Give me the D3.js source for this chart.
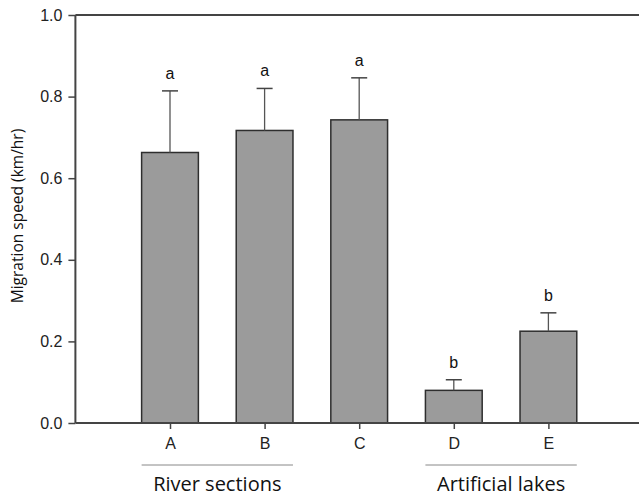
<!DOCTYPE html>
<html><head><meta charset="utf-8">
<script src="https://cdn.jsdelivr.net/npm/d3@7"></script>
<style>body{margin:0;background:#fff}svg{display:block}</style>
</head><body>
<script>
const categories = ["A","B","C","D","E"];
const means = [0.663, 0.717, 0.743, 0.080, 0.225];
const errors = [0.151, 0.103, 0.103, 0.026, 0.045];
const letters = ["a","a","a","b","b"];
const yTicks = [0.0, 0.2, 0.4, 0.6, 0.8, 1.0];
const groups = [{label:"River sections", from:"A", to:"B"},{label:"Artificial lakes", from:"D", to:"E"}];

const W = 639, H = 498;
const svg = d3.select("body").append("svg").attr("width", W).attr("height", H);
const axisColor = "#444";

const x = d3.scalePoint().domain(["", ...categories, " "]).range([75.4, 643]);
const step = x.step();
const bw = step * 0.6;
const y = d3.scaleLinear().domain([0, 1]).range([423, 15]);

svg.selectAll("rect.bar").data(categories).enter().append("rect")
  .attr("x", (d) => x(d) - bw/2)
  .attr("y", (d,i) => y(means[i]))
  .attr("width", bw)
  .attr("height", (d,i) => y(0) - y(means[i]))
  .attr("fill", "#9b9b9b").attr("stroke", "#2e2e2e").attr("stroke-width", 1.5);

categories.forEach((c,i) => {
  const top = y(means[i] + errors[i]);
  svg.append("line").attr("x1", x(c)).attr("x2", x(c)).attr("y1", y(means[i])).attr("y2", top)
    .attr("stroke", "#555").attr("stroke-width", 1.3);
  svg.append("line").attr("x1", x(c)-8).attr("x2", x(c)+8).attr("y1", top).attr("y2", top)
    .attr("stroke", "#444").attr("stroke-width", 1.5);
  svg.append("text").attr("x", x(c)).attr("y", top - 12).attr("text-anchor", "middle")
    .attr("font-family", "Liberation Sans, Arial, sans-serif").attr("font-size", 16).attr("fill", "#111")
    .text(letters[i]);
});

const yAxis = svg.append("g").attr("transform", "translate(75.4,0)")
  .call(d3.axisLeft(y).tickValues(yTicks).tickFormat(d3.format(".1f")).tickSize(7).tickPadding(6));
yAxis.select(".domain").attr("stroke", axisColor).attr("stroke-width", 2).attr("d", `M0,${y(1)}V${y(0)}`);
yAxis.selectAll(".tick line").attr("stroke", axisColor).attr("stroke-width", 1.5);
yAxis.selectAll("text").attr("font-family", "Liberation Sans, Arial, sans-serif").attr("font-size", 16).attr("fill", "#222");

const xAxis = svg.append("g").attr("transform", `translate(0,${y(0)})`)
  .call(d3.axisBottom(x).tickValues(categories).tickSize(6).tickPadding(9));
xAxis.select(".domain").attr("stroke", axisColor).attr("stroke-width", 2).attr("d", `M75.4,0H${W}`);
xAxis.selectAll(".tick line").attr("stroke", axisColor).attr("stroke-width", 1.5);
xAxis.selectAll("text").attr("font-family", "Liberation Sans, Arial, sans-serif").attr("font-size", 16).attr("fill", "#222");

svg.append("line").attr("x1", 75.4).attr("x2", W).attr("y1", y(1)).attr("y2", y(1))
  .attr("stroke", axisColor).attr("stroke-width", 2);

groups.forEach(g => {
  const x1 = x(g.from) - bw/2, x2 = x(g.to) + bw/2;
  svg.append("line").attr("x1", x1).attr("x2", x2).attr("y1", 465).attr("y2", 465)
    .attr("stroke", "#888").attr("stroke-width", 1);
  svg.append("text").attr("x", (x1+x2)/2).attr("y", 491).attr("text-anchor", "middle")
    .attr("font-family", "Open Sans, Noto Sans, sans-serif").attr("font-size", 20).attr("fill", "#111")
    .text(g.label);
});

svg.append("text").attr("transform", `translate(23,216) rotate(-90)`).attr("text-anchor", "middle")
  .attr("font-family", "Open Sans, Noto Sans, sans-serif").attr("font-size", 15.5).attr("fill", "#111")
  .text("Migration speed (km/hr)");
</script>
</body></html>
